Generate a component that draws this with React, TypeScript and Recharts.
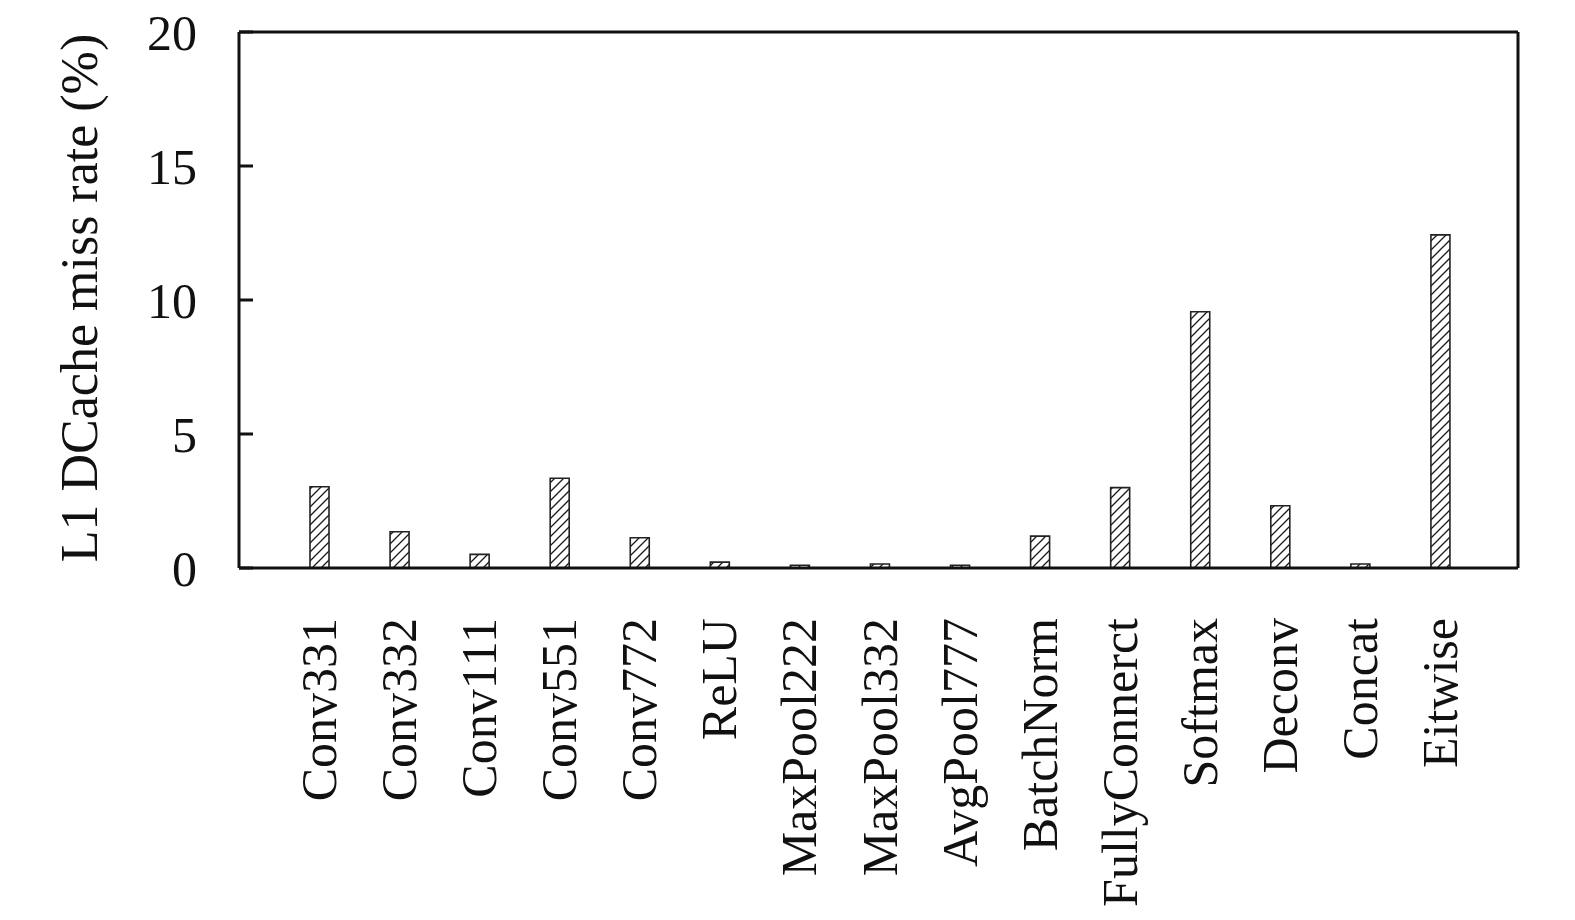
import React from "react"
import { BarChart, Bar, XAxis, YAxis } from "recharts"

const layers = [
  "Conv331",
  "Conv332",
  "Conv111",
  "Conv551",
  "Conv772",
  "ReLU",
  "MaxPool222",
  "MaxPool332",
  "AvgPool777",
  "BatchNorm",
  "FullyConnerct",
  "Softmax",
  "Deconv",
  "Concat",
  "Eitwise",
]
const missRate = [3.03, 1.35, 0.51, 3.35, 1.13, 0.22, 0.1, 0.15, 0.1, 1.19, 3.0, 9.56, 2.32, 0.15, 12.43]
const yTicks = [0, 5, 10, 15, 20]

const chartData = layers.map((name, i) => ({ name, rate: missRate[i] }))

const FONT = '"Liberation Serif", "Times New Roman", serif'
const AXIS = { stroke: "#111", strokeWidth: 3 }

function YTick(props: any) {
  const { x, y, payload } = props
  return (
    <g>
      <line x1={x} y1={y} x2={x + 14} y2={y} stroke="#111" strokeWidth={3} />
      <text x={x - 42} y={y} dy="0.36em" textAnchor="end" fontFamily={FONT} fontSize={50} fill="#111">
        {payload.value}
      </text>
    </g>
  )
}

function XTick(props: any) {
  const { x, y, payload } = props
  const tx = x + 17
  const ty = y + 50
  return (
    <text
      x={tx}
      y={ty}
      transform={`rotate(-90, ${tx}, ${ty})`}
      textAnchor="end"
      fontFamily={FONT}
      fontSize={50}
      fill="#111"
    >
      {payload.value}
    </text>
  )
}

function YLabel(props: any) {
  const vb = props.viewBox || { x: 0, y: 24, width: 231, height: 536 }
  const tx = vb.x + 89
  const ty = vb.y + vb.height / 2 - 2
  return (
    <text
      x={tx}
      y={ty}
      transform={`rotate(-90, ${tx}, ${ty})`}
      textAnchor="middle"
      fontFamily={FONT}
      fontSize={52}
      fill="#111"
    >
      L1 DCache miss rate (%)
    </text>
  )
}

export default function App() {
  return (
    <div style={{ width: 1559, height: 904 }}>
      <BarChart width={1559} height={904} data={chartData} margin={{ top: 23, right: 48, bottom: 0, left: 0 }}>
        <defs>
          <pattern id="hatch" patternUnits="userSpaceOnUse" width={9} height={9}>
            <rect width={9} height={9} fill="#fff" />
            <path d="M-2,2 l4,-4 M0,9 l9,-9 M7,11 l4,-4" stroke="#1a1a1a" strokeWidth={1.3} />
          </pattern>
        </defs>
        <XAxis
          dataKey="name"
          interval={0}
          height={344}
          padding={{ left: 40, right: 38 }}
          tickLine={false}
          tickSize={0}
          tickMargin={0}
          axisLine={AXIS}
          tick={<XTick />}
        />
        <XAxis
          xAxisId="top"
          orientation="top"
          dataKey="name"
          height={1}
          tick={false}
          tickLine={false}
          axisLine={AXIS}
        />
        <YAxis
          width={231}
          domain={[0, 20]}
          ticks={yTicks}
          interval={0}
          tickLine={false}
          tickSize={0}
          tickMargin={0}
          axisLine={AXIS}
          tick={<YTick />}
          label={{ content: <YLabel /> }}
        />
        <YAxis
          yAxisId="right"
          orientation="right"
          width={1}
          domain={[0, 20]}
          tick={false}
          tickLine={false}
          axisLine={AXIS}
        />
        <Bar
          dataKey="rate"
          barSize={19}
          fill="url(#hatch)"
          stroke="#222"
          strokeWidth={1.6}
          isAnimationActive={false}
        />
      </BarChart>
    </div>
  )
}
